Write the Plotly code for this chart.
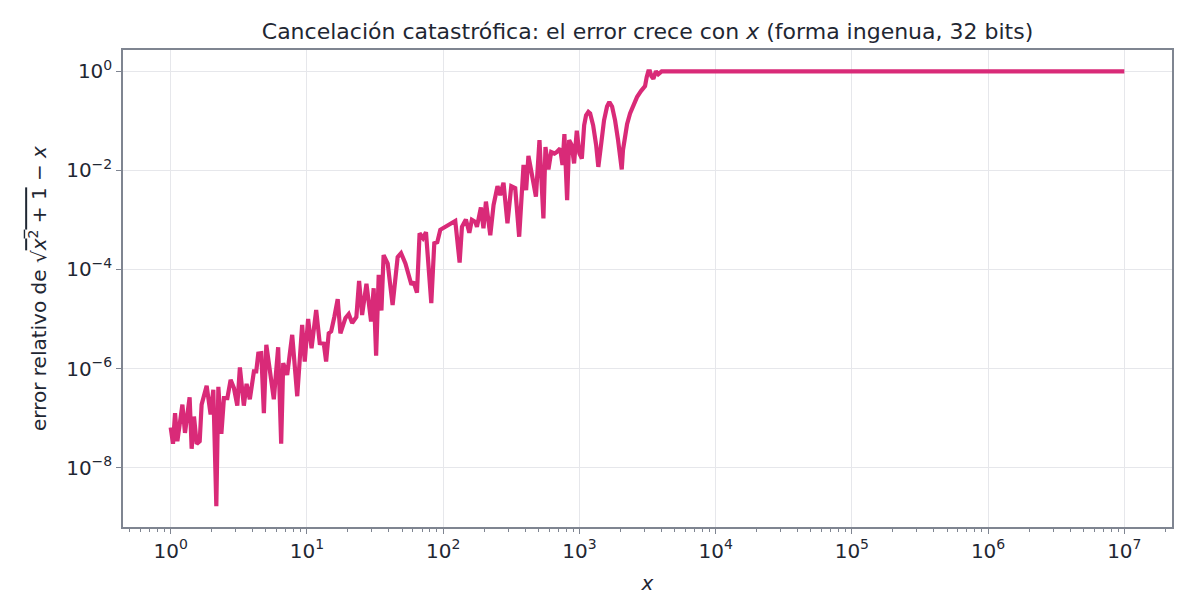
import plotly.graph_objects as go

# log10(x) and log10(relative error)
log10_x = [
    0.000, 0.017, 0.032, 0.049, 0.086, 0.105, 0.139, 0.154, 0.171, 0.191,
    0.213, 0.227, 0.264, 0.293, 0.313, 0.335, 0.350, 0.372, 0.391, 0.416,
    0.440, 0.464, 0.489, 0.508, 0.537, 0.557, 0.581, 0.611, 0.628, 0.643,
    0.665, 0.684, 0.702, 0.728, 0.757, 0.789, 0.811, 0.826, 0.855, 0.892,
    0.929, 0.965, 0.984, 1.009, 1.034, 1.068, 1.094, 1.124, 1.141, 1.160,
    1.178, 1.202, 1.226, 1.246, 1.283, 1.307, 1.332, 1.363, 1.383, 1.405,
    1.437, 1.471, 1.490, 1.508, 1.527, 1.547, 1.563, 1.593, 1.629, 1.666,
    1.691, 1.723, 1.767, 1.783, 1.808, 1.827, 1.852, 1.874, 1.913, 1.935,
    1.957, 1.979, 2.028, 2.065, 2.089, 2.121, 2.138, 2.167, 2.192, 2.211,
    2.236, 2.248, 2.277, 2.296, 2.314, 2.346, 2.370, 2.399, 2.419, 2.443,
    2.472, 2.500, 2.529, 2.558, 2.590, 2.609, 2.626, 2.646, 2.681, 2.707,
    2.736, 2.751, 2.773, 2.793, 2.817, 2.834, 2.859, 2.876, 2.890, 2.910,
    2.925, 2.944, 2.961, 2.981, 3.000, 3.018, 3.035, 3.049, 3.066, 3.079,
    3.101, 3.123, 3.139, 3.159, 3.181, 3.203, 3.220, 3.240, 3.262, 3.284,
    3.311, 3.320, 3.335, 3.350, 3.372, 3.396, 3.423, 3.452, 3.482, 3.494,
    3.506, 3.518, 3.529, 3.543, 3.562, 3.579, 3.604, 4.0, 5.0, 6.0, 7.0,
]
log10_err = [
    -7.19, -7.52, -6.90, -7.47, -6.73, -7.30, -6.58, -7.62, -6.97, -7.52,
    -7.47, -6.73, -6.35, -6.93, -6.43, -8.78, -6.37, -7.32, -6.60, -6.60,
    -6.23, -6.39, -6.75, -5.98, -6.75, -6.31, -6.62, -6.06, -6.06, -5.70,
    -5.69, -6.90, -5.52, -6.06, -6.62, -5.57, -7.52, -5.89, -6.13, -5.32,
    -6.56, -5.12, -5.86, -5.00, -5.59, -4.82, -5.49, -5.50, -5.86, -5.29,
    -5.25, -4.95, -4.60, -5.29, -4.98, -4.90, -5.08, -4.96, -4.23, -4.92,
    -4.29, -5.05, -4.38, -5.74, -4.11, -4.83, -3.71, -3.88, -4.72, -3.75,
    -3.67, -3.88, -4.31, -4.25, -4.47, -3.27, -3.37, -3.25, -4.68, -3.47,
    -3.45, -3.20, -3.12, -3.08, -3.02, -3.86, -3.14, -2.99, -3.26, -3.00,
    -3.04, -3.14, -2.75, -3.17, -2.63, -3.31, -2.70, -2.32, -2.50, -2.25,
    -3.07, -2.32, -2.36, -3.34, -1.89, -2.40, -1.71, -2.00, -2.53, -1.39,
    -2.97, -1.53, -1.98, -1.63, -1.66, -1.63, -1.56, -1.89, -1.27, -2.60,
    -1.39, -1.49, -1.86, -1.20, -1.66, -1.76, -1.09, -0.89, -0.82, -0.85,
    -1.09, -1.49, -1.93, -1.49, -0.99, -0.71, -0.62, -0.71, -0.99, -1.39,
    -1.98, -1.59, -1.29, -1.07, -0.85, -0.67, -0.52, -0.40, -0.30, -0.12,
    0.00, 0.00, -0.10, -0.15, 0.00, -0.06, 0.00, 0.00, 0.00, 0.00, 0.00,
]

x_vals = [10 ** v for v in log10_x]
err_vals = [10 ** v for v in log10_err]

x_tick_vals = [1, 10, 100, 1e3, 1e4, 1e5, 1e6, 1e7]
x_tick_text = ["10<sup>%d</sup>" % k for k in range(8)]
y_tick_vals = [1, 1e-2, 1e-4, 1e-6, 1e-8]
y_tick_text = ["10<sup>0</sup>", "10<sup>−2</sup>", "10<sup>−4</sup>",
               "10<sup>−6</sup>", "10<sup>−8</sup>"]
x_minor = [m * 10 ** d for d in range(-1, 8) for m in range(2, 10)]

TEXT = "#1f2733"
SPINE = "#7f8591"
GRID = "#e6e7eb"
FONT = "DejaVu Sans"

fig = go.Figure()
fig.add_trace(go.Scatter(
    x=x_vals, y=err_vals, mode="lines",
    line=dict(color="#d92a78", width=4.2),
    showlegend=False, hoverinfo="skip",
))

axis_common = dict(
    type="log", showline=True, linecolor=SPINE, linewidth=1.5, mirror=True,
    ticks="outside", ticklen=5, tickwidth=1.2, tickcolor=SPINE,
    showgrid=True, gridcolor=GRID, gridwidth=1, zeroline=False,
    tickfont=dict(family=FONT, size=20, color=TEXT),
    tickmode="array",
)

fig.update_layout(
    width=1189, height=614,
    margin=dict(l=123, r=17, t=50, b=87),
    paper_bgcolor="white", plot_bgcolor="white",
    font=dict(family=FONT, color=TEXT),
    title=dict(
        text="Cancelación catastrófica: el error crece con <i>x</i> (forma ingenua, 32 bits)",
        x=0.5446, xanchor="center", y=0.949, yanchor="middle",
        font=dict(family=FONT, size=22, color=TEXT),
    ),
    xaxis=dict(
        **axis_common,
        range=[-0.35, 7.35],
        tickvals=x_tick_vals, ticktext=x_tick_text,
        minor=dict(tickmode="array", tickvals=x_minor, ticks="outside",
                   ticklen=3, tickwidth=1, tickcolor=SPINE, showgrid=False),
        title=dict(text="<i>x</i>", font=dict(family=FONT, size=20, color=TEXT),
                   standoff=14),
    ),
    yaxis=dict(
        **axis_common,
        range=[-9.2, 0.43],
        tickvals=y_tick_vals, ticktext=y_tick_text,
        title=dict(
            text="error relativo de √<span style='text-decoration:overline'><i>x</i><sup>2</sup> + 1</span> − <i>x</i>",
            font=dict(family=FONT, size=20, color=TEXT), standoff=14,
        ),
    ),
)

fig.write_html("out.html")
